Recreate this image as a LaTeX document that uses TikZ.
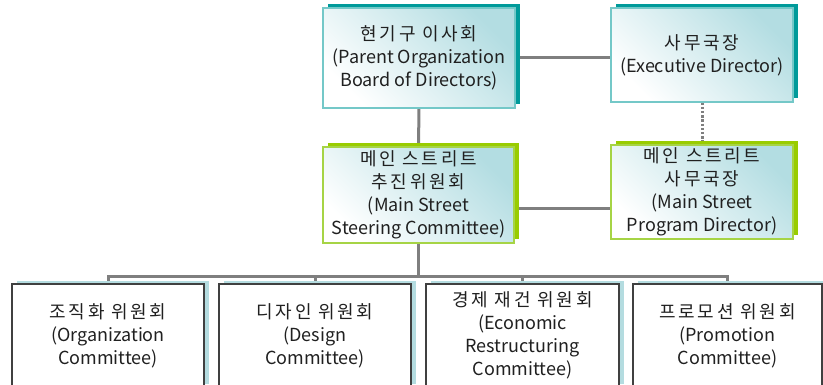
\documentclass[tikz,border=0pt]{standalone}
\usepackage{fontspec}
\setmainfont{Noto Sans CJK KR}
\newfontfamily\kofont[LetterSpace=15]{Noto Sans CJK KR}
\newcommand{\ko}[1]{{\kofont #1}}
\usetikzlibrary{shadows,backgrounds}
\definecolor{tealdk}{HTML}{009A9A}
\definecolor{tealbd}{HTML}{74C8C8}
\definecolor{tealL}{HTML}{B3DDE2}
\definecolor{greendk}{HTML}{99CC00}
\definecolor{greenbd}{HTML}{A6D445}
\definecolor{blueshd}{HTML}{B4DCE0}
\definecolor{boxbd}{HTML}{404040}
\definecolor{linegray}{HTML}{7F7F7F}
\definecolor{txt}{HTML}{202020}
\begin{document}
\begin{tikzpicture}[x=1pt,y=-1pt,
  box/.style={line width=1.2pt, inner sep=0pt, align=center,
    font=\fontsize{18}{23}\selectfont, text=txt},
  tealbox/.style={box, draw=tealbd, top color=tealL, bottom color=white, shading angle=-45,
    general shadow={fill=tealdk, shadow xshift=5pt, shadow yshift=4pt}},
  greenbox/.style={box, draw=greenbd, top color=tealL, bottom color=white, shading angle=-45,
    general shadow={fill=greendk, shadow xshift=5pt, shadow yshift=4pt}},
  combox/.style={box, draw=boxbd, fill=white, minimum height=103pt,
    general shadow={fill=blueshd, shadow xshift=5pt, shadow yshift=3pt}},
  conn/.style={draw=linegray, line width=3pt},
  dotconn/.style={draw=linegray, line width=3pt, dash pattern=on 2.4pt off 1.8pt}]
\useasboundingbox (0,0) rectangle (823,385);

\node[tealbox, minimum width=192pt, minimum height=100pt] (parent) at (419,58)
  {\ko{현기구 이사회}\\(Parent Organization\\Board of Directors)};
\node[tealbox, minimum width=182pt, minimum height=94pt] (exec) at (702,55)
  {\ko{사무국장}\\(Executive Director)};
\node[greenbox, minimum width=191pt, minimum height=96pt] (steer) at (418.5,195)
  {\ko{메인 스트리트}\\\ko{추진위원회}\\(Main Street\\Steering Committee)};
\node[greenbox, minimum width=182pt, minimum height=94pt] (prog) at (702,192)
  {\ko{메인 스트리트}\\\ko{사무국장}\\(Main Street\\Program Director)};

\node[combox, minimum width=192pt] (c1) at (108,335.5)
  {\ko{조직화 위원회}\\(Organization\\Committee)};
\node[combox, minimum width=192pt] (c2) at (315,335.5)
  {\ko{디자인 위원회}\\(Design\\Committee)};
\node[combox, minimum width=193pt] (c3) at (522.5,335.5)
  {\ko{경제 재건 위원회}\\(Economic\\Restructuring\\Committee)};
\node[combox, minimum width=189pt] (c4) at (727.5,335.5)
  {\ko{프로모션 위원회}\\(Promotion\\Committee)};

\coordinate (bus) at (0,277);

\begin{scope}[on background layer]
  \draw[conn] (parent.east) -- (parent.east -| exec.west);
  \draw[conn] (parent.south) -- (steer.north);
  \draw[dotconn] (exec.south) -- (prog.north);
  \draw[conn] ([yshift=-14pt]steer.east) -- ([yshift=-14pt]steer.east -| prog.west);
  \draw[conn] (steer.south) -- (steer.south |- bus);
  \draw[conn] (c1.north) -- (c1.north |- bus) -- (c4.north |- bus) -- (c4.north);
  \draw[conn] (c2.north) -- (c2.north |- bus);
  \draw[conn] (c3.north) -- (c3.north |- bus);
\end{scope}
\end{tikzpicture}
\end{document}
